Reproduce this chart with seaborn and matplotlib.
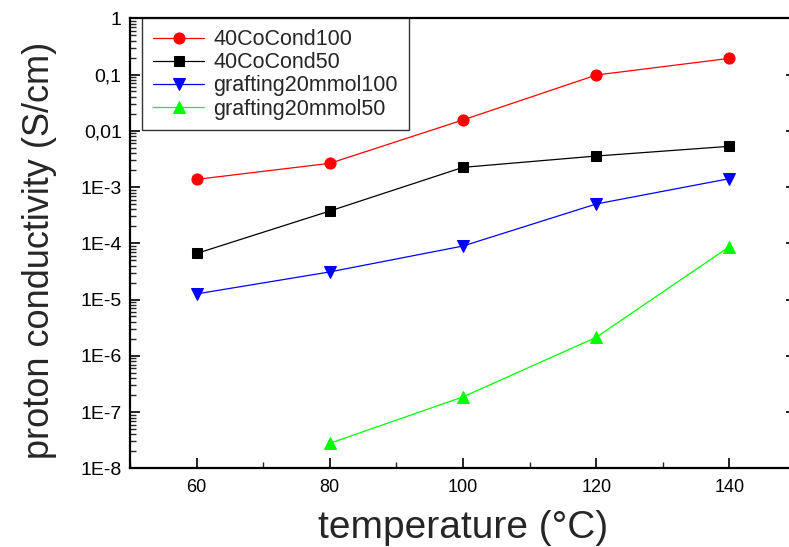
import numpy as np
import pandas as pd
import matplotlib
matplotlib.use("Agg")
import matplotlib.pyplot as plt
import matplotlib.ticker as mticker
import seaborn as sns

# temperatures (°C)
temperature = [60, 80, 100, 120, 140]

# proton conductivity (S/cm)
cond_40CoCond100 = [1.37e-3, 2.64e-3, 1.56e-2, 9.8e-2, 1.94e-1]
cond_40CoCond50 = [6.6e-5, 3.75e-4, 2.24e-3, 3.56e-3, 5.3e-3]
cond_grafting100 = [1.26e-5, 3.1e-5, 8.95e-5, 5.0e-4, 1.41e-3]
cond_grafting50 = [np.nan, 2.78e-8, 1.86e-7, 2.13e-6, 8.7e-5]

series_names = ["40CoCond100", "40CoCond50", "grafting20mmol100", "grafting20mmol50"]
series_values = [cond_40CoCond100, cond_40CoCond50, cond_grafting100, cond_grafting50]
series_colors = ["#ff0000", "#000000", "#0000ff", "#00ff00"]
series_markers = ["o", "s", "v", "^"]
series_msize = [8, 7, 8.5, 8.5]

ytick_values = [1e-8, 1e-7, 1e-6, 1e-5, 1e-4, 1e-3, 1e-2, 1e-1, 1]
ytick_labels = ["1E-8", "1E-7", "1E-6", "1E-5", "1E-4", "1E-3", "0,01", "0,1", "1"]

sns.set_style("white")
plt.rcParams["font.family"] = ["Liberation Sans", "DejaVu Sans"]

fig = plt.figure(figsize=(7.89, 5.47), dpi=100)
ax = fig.add_axes([130 / 789, 1 - 468.3 / 547, 666 / 789, 450 / 547])

for name, values, color, marker, ms in zip(
    series_names, series_values, series_colors, series_markers, series_msize
):
    df = pd.DataFrame({"temperature": temperature, "conductivity": values}).dropna()
    sns.lineplot(
        data=df,
        x="temperature",
        y="conductivity",
        color=color,
        marker=marker,
        markersize=ms,
        markeredgecolor=color,
        linewidth=0.9,
        label=name,
        ax=ax,
    )

ax.set_yscale("log")
ax.set_xlim(50, 150)
ax.set_ylim(1e-8, 1)

ax.yaxis.set_major_locator(mticker.FixedLocator(ytick_values))
ax.yaxis.set_major_formatter(mticker.FixedFormatter(ytick_labels))
ax.yaxis.set_minor_locator(mticker.LogLocator(base=10, subs=np.arange(2, 10), numticks=20))
ax.yaxis.set_minor_formatter(mticker.NullFormatter())
ax.xaxis.set_major_locator(mticker.FixedLocator([60, 80, 100, 120, 140]))
ax.xaxis.set_minor_locator(mticker.MultipleLocator(10))

ax.tick_params(axis="both", which="major", direction="in", length=7, width=1.2,
               colors="black")
ax.tick_params(axis="x", which="major", labelsize=13, pad=8)
ax.tick_params(axis="y", which="major", labelsize=14, pad=6)
ax.tick_params(axis="both", which="minor", direction="in", length=4, width=1.0)
ax.tick_params(axis="y", which="major", right=True, left=True)
ax.tick_params(axis="y", which="minor", left=True, right=False)
ax.tick_params(axis="x", which="both", bottom=True, top=False)

for spine in ax.spines.values():
    spine.set_linewidth(1.6)
    spine.set_color("black")

ax.set_xlabel("temperature (°C)", fontsize=28, labelpad=10)
ax.set_ylabel("proton conductivity (S/cm)", fontsize=26)
ax.yaxis.set_label_coords(-0.11, 0.485)

leg = ax.legend(
    loc="upper left",
    bbox_to_anchor=(0.018, 1.0),
    borderaxespad=0,
    fontsize=15.5,
    frameon=True,
    fancybox=False,
    edgecolor="black",
    handlelength=2.4,
    handletextpad=0.42,
    labelspacing=0.1,
    borderpad=0.5,
)
leg.get_frame().set_linewidth(1.0)

fig.savefig("out.png", dpi=100)
